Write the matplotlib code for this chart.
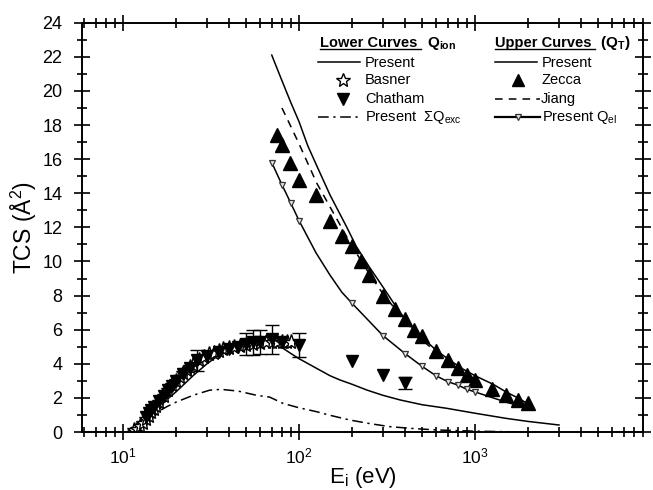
import numpy as np
import matplotlib
matplotlib.use("Agg")
import matplotlib.pyplot as plt
from matplotlib.lines import Line2D
from matplotlib.ticker import LogLocator, MultipleLocator

plt.rcParams['font.family'] = ['Liberation Sans', 'DejaVu Sans']
plt.rcParams['mathtext.fontset'] = 'custom'
plt.rcParams['mathtext.rm'] = 'Liberation Sans'
plt.rcParams['mathtext.it'] = 'Liberation Sans:italic'
plt.rcParams['mathtext.bf'] = 'Liberation Sans:bold'

# ---- Upper curves: total cross section Q_T ----
qt_E = [70, 80, 90, 100, 112, 125, 150, 187, 211, 250, 300, 375, 450, 532, 600,
        721, 850, 1000, 1266, 1500, 1750, 2000]
qt_present = [22.1, 20.6, 19.3, 18.2, 16.8, 15.7, 13.9, 12.0, 10.9, 9.7, 8.5, 7.0,
              6.0, 5.3, 4.8, 4.2, 3.7, 3.3, 2.8, 2.35, 2.0, 1.65]

jiang_E = [80, 90, 100, 126, 150, 200, 250, 300, 400, 500, 700, 1000]
jiang_Q = [19.0, 17.9, 16.9, 14.6, 13.2, 10.9, 9.3, 8.1, 6.5, 5.4, 4.1, 3.1]

zecca_E = [75, 80, 89, 100, 125, 150, 175, 200, 225, 250, 300, 350, 400, 450, 500,
           600, 700, 800, 900, 1000, 1250, 1500, 1750, 2000]
zecca_Q = [17.4, 16.8, 15.8, 14.8, 13.9, 12.4, 11.5, 10.9, 10.0, 9.2, 8.0, 7.2, 6.6,
           6.0, 5.6, 4.75, 4.2, 3.75, 3.35, 3.05, 2.55, 2.15, 1.88, 1.68]

qel_E = [70, 80, 90, 100, 125, 150, 175, 200, 300, 400, 500, 600, 700, 800, 900,
         1000, 1500, 2000]
qel_Q = [15.8, 14.5, 13.4, 12.4, 10.5, 9.2, 8.2, 7.55, 5.65, 4.6, 3.85, 3.3, 2.95,
         2.75, 2.5, 2.35, 1.75, 1.4]
qel_marked = [70, 80, 90, 100, 200, 300, 400, 500, 600, 700, 800, 900, 1000]

# ---- Lower curves: ionization cross section Q_ion ----
qion_E = [10.5, 12, 14, 16, 18, 20, 25, 30, 35, 40, 50, 60, 70, 80, 90, 100, 126,
          150, 171, 200, 243, 300, 375, 500, 690, 1000, 1500, 2000, 3000]
qion_Q = [0.0, 0.35, 0.9, 1.45, 1.95, 2.35, 3.3, 4.0, 4.5, 4.8, 5.1, 5.2, 5.15,
          4.95, 4.6, 4.3, 3.73, 3.3, 3.05, 2.8, 2.46, 2.15, 1.88, 1.6, 1.39, 1.1,
          0.8, 0.62, 0.41]

qexc_E = [13, 15, 17.7, 20, 25, 31, 36, 45, 57.5, 68, 81, 100, 126, 150, 195, 250,
          329, 450, 606, 1000, 1900]
qexc_Q = [0.55, 1.05, 1.48, 1.75, 2.15, 2.45, 2.5, 2.4, 2.15, 2.05, 1.68, 1.42, 1.19,
          0.98, 0.7, 0.5, 0.31, 0.2, 0.12, 0.05, 0.0]

basner_E = [11.5, 12, 12.5, 13, 13.5, 14, 14.5, 15, 15.5, 16, 17, 18, 19, 20, 21,
            22, 23, 24, 25, 27, 29, 31, 33, 35, 37, 40, 43, 46, 50, 55, 60, 65, 70,
            75, 80, 85, 90]
basner_Q = [0.1, 0.2, 0.35, 0.55, 0.75, 0.95, 1.15, 1.35, 1.55, 1.75, 2.1, 2.45,
            2.75, 3.0, 3.25, 3.45, 3.65, 3.8, 3.95, 4.2, 4.4, 4.55, 4.65, 4.75, 4.85,
            4.95, 5.0, 5.05, 5.1, 5.15, 5.2, 5.25, 5.3, 5.3, 5.3, 5.3, 5.3]

chatham_E = [13.5, 14, 14.5, 15, 16, 17, 18, 19, 20, 22, 24, 26.5, 30, 35, 40, 45,
             50, 55, 60, 70, 80, 100, 200, 300, 400]
chatham_Q = [0.9, 1.1, 1.3, 1.45, 1.8, 2.1, 2.45, 2.7, 3.0, 3.4, 3.75, 4.2, 4.45,
             4.7, 4.85, 5.0, 5.15, 5.25, 5.3, 5.45, 5.3, 5.1, 4.15, 3.35, 2.85]
chatham_err = [0, 0, 0, 0, 0, 0, 0, 0, 0, 0, 0, 0.6, 0, 0, 0, 0,
               0.65, 0.75, 0.7, 0.85, 0, 0.73, 0, 0, 0.35]

x_ticks_major = [10, 100, 1000]
y_ticks_major = list(range(0, 25, 2))

W, H = 653, 490
fig = plt.figure(figsize=(W / 100, H / 100), dpi=100)
L, R, T, B = 82, 643, 22.7, 432
ax = fig.add_axes([L / W, 1 - B / H, (R - L) / W, (B - T) / H])

lw = 1.1
# upper curves
ax.plot(qt_E, qt_present, color='black', lw=lw)
ax.plot(jiang_E, jiang_Q, color='black', lw=lw, ls=(0, (5, 4)))
ax.plot(zecca_E, zecca_Q, ls='none', marker='^', ms=9.5, color='black')
ax.plot(qel_E, qel_Q, color='black', lw=lw)
qel_mark_Q = [q for e, q in zip(qel_E, qel_Q) if e in qel_marked]
ax.plot(qel_marked, qel_mark_Q, ls='none', marker='v', ms=5, mfc='#e8e8e8',
        mec='#333333', mew=0.9)

# lower curves
ax.plot(qion_E, qion_Q, color='black', lw=lw)
ax.plot(qexc_E, qexc_Q, color='black', lw=lw, ls=(0, (7, 3, 1.5, 3)))
cerr = np.array(chatham_err)
ax.errorbar(chatham_E, chatham_Q, yerr=np.where(cerr > 0, cerr, np.nan),
            fmt='v', ms=8, color='black', ecolor='black', elinewidth=1.0,
            capsize=5, capthick=1.0)
ax.plot(basner_E, basner_Q, ls='none', marker='*', ms=11, mfc='white',
        mec='black', mew=1.0)

ax.set_xscale('log')
ax.set_xlim(5.85, 9000)
ax.set_ylim(0, 24)
ax.xaxis.set_major_locator(LogLocator(base=10, numticks=10))
ax.xaxis.set_minor_locator(LogLocator(base=10, subs=np.arange(2, 10), numticks=20))
ax.set_xticks(x_ticks_major)
ax.set_yticks(y_ticks_major)
ax.yaxis.set_minor_locator(MultipleLocator(1))

for s in ax.spines.values():
    s.set_linewidth(1.4)
ax.tick_params(which='both', direction='inout', top=True, right=True, width=1.2)
ax.tick_params(which='major', length=12)
ax.tick_params(which='minor', length=7)
ax.tick_params(axis='y', which='major', labelsize=13, pad=8)
ax.tick_params(axis='x', which='major', labelsize=12.5, pad=4.5)
ax.tick_params(axis='y', which='minor', labelleft=False)

ax.set_xlabel(r'E$_\mathregular{i}$ (eV)', fontsize=16)
ax.set_ylabel(r'TCS (Å$^\mathregular{2}$)', fontsize=16.5)
ax.xaxis.set_label_coords(0.5, -0.08)
ax.yaxis.set_label_coords(-0.076, 0.5)


# ---- hand-laid legend block (figure pixel coordinates) ----
def fx(px):
    return px / W


def fy(py):
    return 1 - py / H


ls_ = 10.5
fig.text(fx(320), fy(46.7), 'Lower Curves', fontsize=ls_, fontweight='bold',
         va='baseline')
fig.add_artist(Line2D([fx(320), fx(421)], [fy(49), fy(49)], color='black', lw=1.0))
fig.text(fx(427), fy(46.7), r'$\mathbf{Q_{ion}}$', fontsize=ls_ + 0.5, va='baseline')

fig.text(fx(495), fy(46.7), 'Upper Curves', fontsize=ls_, fontweight='bold',
         va='baseline')
fig.add_artist(Line2D([fx(495), fx(595)], [fy(49), fy(49)], color='black', lw=1.0))
fig.text(fx(600), fy(46.7), r'$\mathbf{(Q_T)}$', fontsize=ls_ + 0.5, va='baseline')

# left column
fig.add_artist(Line2D([fx(318), fx(360)], [fy(62), fy(62)], color='black', lw=lw))
fig.text(fx(365), fy(66.7), 'Present', fontsize=ls_, va='baseline')
fig.add_artist(Line2D([fx(343)], [fy(80)], ls='none', marker='*', ms=10, mfc='white',
                      mec='black', mew=1.0))
fig.text(fx(365), fy(84), 'Basner', fontsize=ls_, va='baseline')
fig.add_artist(Line2D([fx(343)], [fy(99)], ls='none', marker='v', ms=8, color='black'))
fig.text(fx(365), fy(103.3), 'Chatham', fontsize=ls_, va='baseline')
fig.add_artist(Line2D([fx(318), fx(362)], [fy(117), fy(117)], color='black', lw=lw,
                      ls=(0, (7, 3, 1.5, 3))))
fig.text(fx(365), fy(120.7), r'Present  $\Sigma$Q$_\mathregular{exc}$', fontsize=ls_,
         va='baseline')

# right column
fig.add_artist(Line2D([fx(495), fx(537)], [fy(62), fy(62)], color='black', lw=lw))
fig.text(fx(542), fy(66.7), 'Present', fontsize=ls_, va='baseline')
fig.add_artist(Line2D([fx(518)], [fy(80)], ls='none', marker='^', ms=9, color='black'))
fig.text(fx(542), fy(84), 'Zecca', fontsize=ls_, va='baseline')
fig.add_artist(Line2D([fx(495), fx(540)], [fy(99), fy(99)], color='black', lw=lw,
                      ls=(0, (5, 4))))
fig.text(fx(541), fy(103.3), 'Jiang', fontsize=ls_, va='baseline')
fig.add_artist(Line2D([fx(495), fx(540)], [fy(117), fy(117)], color='black', lw=1.6))
fig.add_artist(Line2D([fx(518)], [fy(117)], ls='none', marker='v', ms=5,
                      mfc='#e8e8e8', mec='#333333', mew=0.9))
fig.text(fx(542), fy(120.7), r'Present Q$_\mathregular{el}$', fontsize=ls_,
         va='baseline')

fig.savefig('out.png', dpi=100)
